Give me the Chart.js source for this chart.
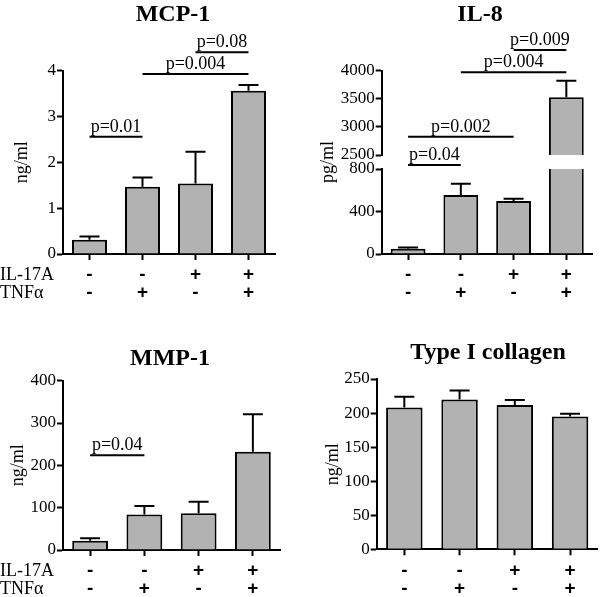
<!DOCTYPE html>
<html>
<head>
<meta charset="utf-8">
<script src="https://cdn.jsdelivr.net/npm/chart.js@4.4.1/dist/chart.umd.min.js"></script>
<style>
  html, body { margin: 0; padding: 0; background: #fff; }
  #wrap { position: relative; width: 600px; height: 597px; overflow: hidden; }
  #wrap canvas { position: absolute; left: 0; top: 0; }
  .titulo { position: absolute; width: 300px; text-align: center; font: bold 24px/24px "Liberation Serif"; color: #000; white-space: nowrap; }
</style>
</head>
<body>
<div id="wrap">
  <canvas id="chartMcp" width="600" height="640"></canvas>
  <canvas id="chartIl8" width="600" height="640"></canvas>
  <canvas id="chartMmp" width="600" height="640"></canvas>
  <canvas id="chartCol" width="600" height="640"></canvas>
  <div class="titulo" style="left: 23px; top: 1px;">MCP-1</div>
  <div class="titulo" style="left: 330px; top: 1px;">IL-8</div>
  <div class="titulo" style="left: 20px; top: 345px;">MMP-1</div>
  <div class="titulo" style="left: 338px; top: 339px;">Type I collagen</div>
</div>
<script>
// grupos (IL-17A / TNFα)
var il17a = ['-', '-', '+', '+'];
var tnfa = ['-', '+', '-', '+'];
var grupos = il17a.map(function (v, i) { return [v, tnfa[i]]; });

// médias e erro (só para cima)
var mcpMedia = [0.31, 1.47, 1.54, 3.56];
var mcpErro = [0.07, 0.20, 0.69, 0.13];
var il8Media = [50, 555, 499, 3527];
var il8Erro = [12, 107, 21, 295];
var mmpMedia = [22, 84, 87, 232];
var mmpErro = [5.5, 20, 27, 89];
var colMedia = [208, 220, 212, 195];
var colErro = [16, 13, 7, 4];

// barras de significância: [de, até, nível, texto, eixo]
var mcpSig = [[0, 1, 2.56, 'p=0.01', 'y'], [1, 3, 3.93, 'p=0.004', 'y'], [2, 3, 4.40, 'p=0.08', 'y']];
var il8Sig = [[0, 1, 838, 'p=0.04', 'yLow'], [0, 2, 2826, 'p=0.002', 'yHigh'], [1, 3, 3971, 'p=0.004', 'yHigh'], [2, 3, 4368, 'p=0.009', 'yHigh']];
var mmpSig = [[0, 1, 224, 'p=0.04', 'y']];
var colSig = [];

Chart.defaults.font.family = 'Liberation Serif';
Chart.defaults.color = '#000';

var serif18 = '18px "Liberation Serif"';
var altCanvas = 640;
var altX = 60;

var painel = {
  id: 'painel',
  // cada dataset fica recortado no seu pedaço do eixo (eixo partido do IL-8)
  beforeDatasetDraw(chart, args) {
    var ds = chart.data.datasets[args.index];
    var sc = chart.scales[ds.yAxisID || 'y'];
    var ctx = chart.ctx;
    ctx.save();
    ctx.beginPath();
    ctx.rect(chart.chartArea.left, sc.top, chart.chartArea.right - chart.chartArea.left, sc.bottom - sc.top);
    ctx.clip();
  },
  afterDatasetDraw(chart, args) {
    var ds = chart.data.datasets[args.index];
    var sc = chart.scales[ds.yAxisID || 'y'];
    var x = chart.scales.x;
    var ctx = chart.ctx;
    ctx.strokeStyle = '#000';
    ctx.lineWidth = 2;
    ds.erro.forEach(function (e, i) {
      var px = x.getPixelForValue(i);
      var y0 = sc.getPixelForValue(ds.data[i]);
      var y1 = sc.getPixelForValue(ds.data[i] + e);
      ctx.beginPath();
      ctx.moveTo(px, y0);
      ctx.lineTo(px, y1);
      ctx.moveTo(px - 10, y1);
      ctx.lineTo(px + 10, y1);
      ctx.stroke();
    });
    ctx.restore();
  },
  afterDraw(chart, args, opts) {
    var ctx = chart.ctx;
    var x = chart.scales.x;
    ctx.save();
    ctx.fillStyle = '#000';
    ctx.strokeStyle = '#000';
    ctx.font = serif18;
    ctx.textAlign = 'center';

    // título do eixo y quando o eixo é partido
    if (opts.tituloY) {
      ctx.save();
      ctx.textBaseline = 'middle';
      ctx.translate(opts.tituloY[1], opts.tituloY[2]);
      ctx.rotate(-Math.PI / 2);
      ctx.fillText(opts.tituloY[0], 0, 0);
      ctx.restore();
    }

    // significância
    ctx.lineWidth = 2;
    ctx.textBaseline = 'alphabetic';
    opts.sig.forEach(function (s) {
      var sc = chart.scales[s[4]];
      var xa = x.getPixelForValue(s[0]);
      var xb = x.getPixelForValue(s[1]);
      var py = sc.getPixelForValue(s[2]);
      ctx.beginPath();
      ctx.moveTo(xa, py);
      ctx.lineTo(xb, py);
      ctx.stroke();
      ctx.fillText(s[3], (xa + xb) / 2, py - 5);
    });

    // nomes das linhas do eixo x
    if (opts.linhas) {
      ctx.textAlign = 'left';
      ctx.textBaseline = 'middle';
      ctx.fillText('IL-17A', 0, x.top + 21);
      ctx.fillText('TNFα', 0, x.top + 39);
    }
    ctx.restore();
  }
};

function eixoX() {
  return {
    offset: true,
    ticks: {
      font: { family: 'Liberation Sans', size: 19, weight: 'bold', lineHeight: 0.95 },
      padding: 6, color: '#000', autoSkip: false, maxRotation: 0
    },
    grid: { offset: false, drawOnChartArea: false, tickLength: 6, tickWidth: 2, tickColor: '#000' },
    border: { color: '#000', width: 2 },
    afterFit: function (s) { s.height = altX; }
  };
}

function eixoY(min, max, passo, titulo, largura) {
  return {
    type: 'linear',
    position: 'left',
    min: min,
    max: max,
    ticks: {
      stepSize: passo, padding: 1, font: { size: 17 }, color: '#000', autoSkip: false,
      callback: function (v) { return String(v); }
    },
    grid: { drawOnChartArea: false, tickLength: 6, tickWidth: 2, tickColor: '#000' },
    border: { color: '#000', width: 2 },
    title: { display: !!titulo, text: titulo, font: { size: 18 }, color: '#000', padding: { top: 4, bottom: 4 } },
    afterFit: function (s) { s.width = largura; }
  };
}

function barras(media, erro, eixo) {
  return {
    data: media,
    erro: erro,
    yAxisID: eixo,
    grouped: false,
    backgroundColor: '#b2b2b2',
    borderColor: '#000',
    borderWidth: 2,
    barPercentage: 0.66,
    categoryPercentage: 1
  };
}

// area = [esquerda, direita, topo, base] em pixels da página
function opcoes(area, larguraY, scales, extra) {
  return {
    responsive: false,
    animation: false,
    events: [],
    layout: {
      padding: { left: area[0] - larguraY, right: 600 - area[1], top: area[2], bottom: altCanvas - area[3] - altX }
    },
    plugins: { legend: { display: false }, tooltip: { enabled: false }, painel: extra },
    scales: scales
  };
}

// MCP-1
var chartMcp = new Chart(document.getElementById('chartMcp'), {
  type: 'bar',
  data: { labels: grupos, datasets: [barras(mcpMedia, mcpErro, 'y')] },
  options: opcoes([63, 275, 70.7, 254], 56,
    { x: eixoX(), y: eixoY(0, 4, 1, 'ng/ml', 56) },
    { sig: mcpSig, linhas: true }),
  plugins: [painel]
});

// IL-8 (eixo partido: dois eixos empilhados e um espaço vazio)
var yLow = eixoY(0, 800, 400, '', 68.5);
yLow.stack = 'il8'; yLow.stackWeight = 85; yLow.weight = 1;
var yHigh = eixoY(2500, 4000, 500, '', 68.5);
yHigh.stack = 'il8'; yHigh.stackWeight = 84.3; yHigh.weight = 3;
var yGap = { type: 'linear', position: 'left', display: false, min: 0, max: 1, stack: 'il8', stackWeight: 14, weight: 2 };

var chartIl8 = new Chart(document.getElementById('chartIl8'), {
  type: 'bar',
  data: { labels: grupos, datasets: [barras(il8Media, il8Erro, 'yLow'), barras(il8Media, il8Erro, 'yHigh')] },
  options: opcoes([381.7, 592.7, 70.7, 254], 68.5,
    { x: eixoX(), yLow: yLow, yGap: yGap, yHigh: yHigh },
    { sig: il8Sig, linhas: false, tituloY: ['pg/ml', 328, 162] }),
  plugins: [painel]
});

// MMP-1
var chartMmp = new Chart(document.getElementById('chartMmp'), {
  type: 'bar',
  data: { labels: grupos, datasets: [barras(mmpMedia, mmpErro, 'y')] },
  options: opcoes([63, 280, 380.7, 550], 59.8,
    { x: eixoX(), y: eixoY(0, 400, 100, 'ng/ml', 59.8) },
    { sig: mmpSig, linhas: true }),
  plugins: [painel]
});

// Type I collagen
var chartCol = new Chart(document.getElementById('chartCol'), {
  type: 'bar',
  data: { labels: grupos, datasets: [barras(colMedia, colErro, 'y')] },
  options: opcoes([376.7, 597.7, 379, 549.3], 58.5,
    { x: eixoX(), y: eixoY(0, 250, 50, 'ng/ml', 58.5) },
    { sig: colSig, linhas: false }),
  plugins: [painel]
});
</script>
</body>
</html>
